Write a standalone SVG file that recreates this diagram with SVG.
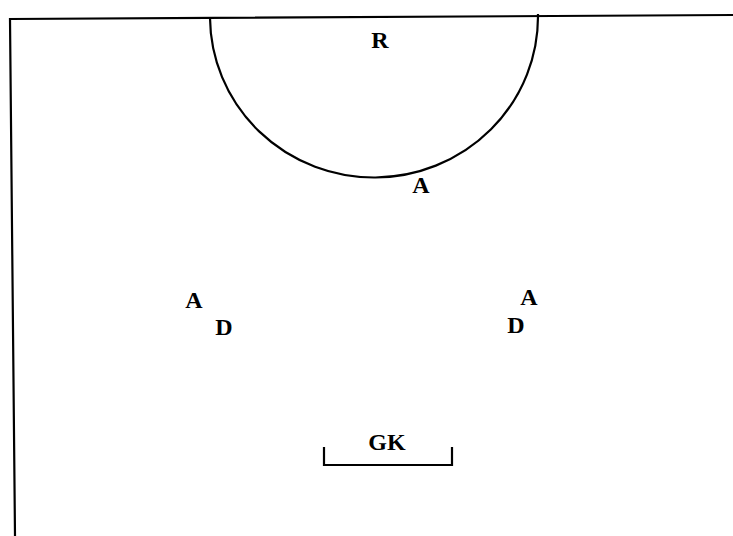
<svg xmlns="http://www.w3.org/2000/svg" width="733" height="536" viewBox="0 0 733 536">
<style>
.ln{fill:none;stroke:#000;stroke-width:2.2;stroke-linecap:square}
.lb{font-family:"Liberation Serif","Times New Roman",serif;font-weight:bold;font-size:24px;fill:#000;text-anchor:middle}
</style>
<rect width="733" height="536" fill="#fff"/>
<g id="pitch">
<path class="ln" d="M733,15 L10,19 L15,536"/>
<path id="arc" class="ln" d="M210,18 A164,161 0 0 0 538,15"/>
</g>
<g id="goal">
<path class="ln" d="M324,448 L324,465 L452,465 L452,448" stroke-width="2"/>
<text class="lb" x="387" y="450">GK</text>
</g>
<g id="R"><text class="lb" x="380" y="48">R</text></g>
<g id="A1"><text class="lb" x="421" y="193">A</text></g>
<g id="A2"><text class="lb" x="194" y="308">A</text></g>
<g id="D1"><text class="lb" x="224" y="335">D</text></g>
<g id="A3"><text class="lb" x="529" y="305">A</text></g>
<g id="D2"><text class="lb" x="516" y="333">D</text></g>
</svg>
